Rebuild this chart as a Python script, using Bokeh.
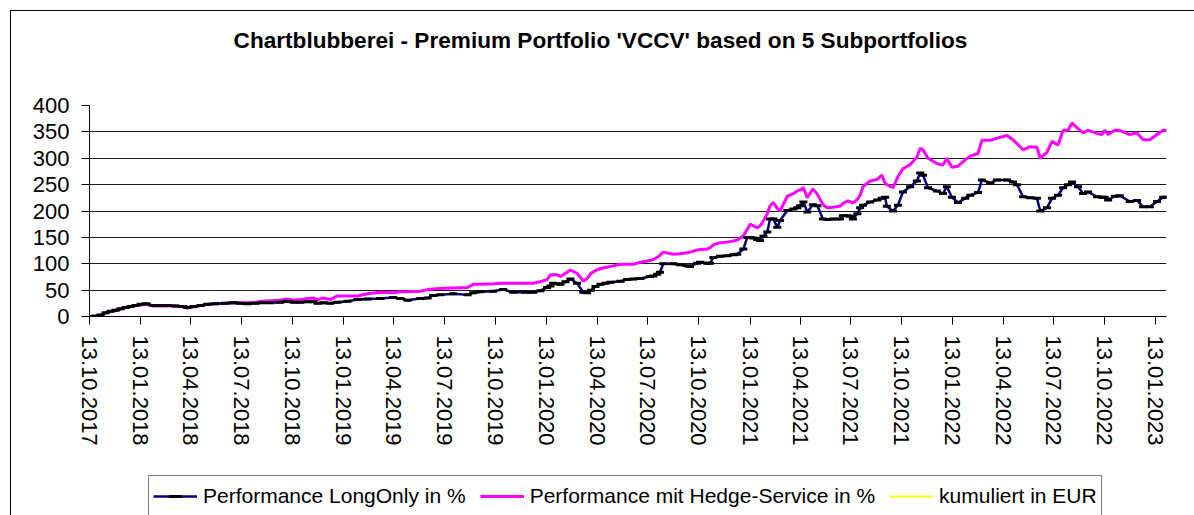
import pandas as pd
from bokeh.plotting import figure
from bokeh.layouts import column
from bokeh.models import (Range1d, FixedTicker, Legend, LegendItem, Label, ColumnDataSource)
from bokeh.embed import file_html
from bokeh.resources import INLINE

title_text = "Chartblubberei - Premium Portfolio 'VCCV' based on 5 Subportfolios"
series_names = ["Performance LongOnly in %",
                "Performance mit Hedge-Service in %",
                "kumuliert in EUR"]
start_date = "13.10.2017"
tick_labels = ["13.10.2017", "13.01.2018", "13.04.2018", "13.07.2018", "13.10.2018",
               "13.01.2019", "13.04.2019", "13.07.2019", "13.10.2019",
               "13.01.2020", "13.04.2020", "13.07.2020", "13.10.2020",
               "13.01.2021", "13.04.2021", "13.07.2021", "13.10.2021",
               "13.01.2022", "13.04.2022", "13.07.2022", "13.10.2022",
               "13.01.2023"]
y_ticks = [0, 50, 100, 150, 200, 250, 300, 350, 400]

# days since 13.10.2017
days = [0, 11, 20, 29, 38, 47, 56, 65, 74, 83,
        92, 102, 115, 128, 140, 155, 169, 176, 187, 200,
        212, 226, 244, 259, 271, 284, 298, 311, 325, 343,
        356, 367, 379, 392, 403, 410, 421, 433, 446, 464,
        482, 500, 523, 546, 559, 572, 595, 608, 618, 631,
        654, 680, 690, 703, 726, 744, 762, 784, 798, 811,
        823, 829, 834, 841, 847, 856, 865, 877, 888, 895,
        902, 910, 919, 928, 937, 955, 967, 978, 991, 1008,
        1014, 1021, 1026, 1032, 1050, 1062, 1075, 1080, 1093, 1098,
        1111, 1116, 1122, 1134, 1147, 1158, 1165, 1176, 1183, 1188,
        1194, 1201, 1206, 1212, 1219, 1224, 1230, 1237, 1242, 1255,
        1266, 1273, 1278, 1284, 1291, 1301, 1309, 1319, 1327, 1337,
        1350, 1355, 1363, 1368, 1373, 1381, 1386, 1391, 1404, 1417,
        1425, 1431, 1434, 1445, 1454, 1463, 1476, 1488, 1494, 1499,
        1508, 1524, 1535, 1542, 1551, 1562, 1575, 1584, 1598, 1605,
        1620, 1632, 1650, 1661, 1668, 1679, 1692, 1704, 1710, 1722,
        1731, 1742, 1751, 1760, 1767, 1778, 1787, 1796, 1812, 1821,
        1826, 1832, 1844, 1853, 1871, 1884, 1895, 1907, 1920, 1931,
        1937]

long_only = [0, 1, 3, 7, 10, 12, 14.5, 17, 19, 21,
             23, 24, 21, 21, 21, 20, 19, 17, 19, 21,
             23, 24, 25, 26, 25, 24, 25, 26, 26, 27,
             29, 27, 27, 28, 28, 25, 26, 25, 27, 29,
             32, 33, 34, 36, 34, 31, 34, 35, 40, 41,
             43, 41, 45, 47, 48, 51, 46, 46, 46, 49,
             55, 58, 63, 62, 61, 66, 71, 63, 46, 45,
             50, 57, 61, 63, 65, 67, 70, 71, 72, 76,
             77, 80, 84, 100, 100, 98, 96, 95, 101, 103,
             101, 101, 112, 114, 115, 117, 118, 128, 150, 150,
             149, 146, 144, 152, 160, 185, 185, 169, 182, 201,
             204, 206, 210, 217, 198, 212, 210, 185, 184, 185,
             185, 191, 191, 190, 185, 195, 206, 211, 217, 221,
             224, 226, 209, 200, 211, 236, 246, 257, 272, 268,
             244, 238, 233, 246, 226, 216, 224, 230, 235, 259,
             253, 259, 259, 255, 250, 227, 225, 224, 200, 206,
             224, 230, 244, 250, 255, 246, 233, 236, 227, 226,
             226, 221, 228, 229, 218, 220, 208, 208, 218, 226,
             226]

hedge = [0, 0, 2, 6, 10, 12, 14, 17, 19, 21,
         22, 23, 20, 20, 20, 20, 18, 16, 18, 21,
         23, 24, 25, 26, 26, 26, 27, 29, 30, 31,
         33, 31, 32, 34, 35, 32, 35, 32, 39, 39,
         39, 43, 46, 45, 47, 47, 48, 51, 52, 53,
         54, 55, 61, 61, 62, 63, 63, 63, 63, 66,
         70, 79, 79, 79, 76, 82, 88, 82, 67, 72,
         82, 87, 91, 93, 95, 99, 99, 99, 103, 106,
         108, 112, 116, 122, 118, 119, 121, 122, 126, 127,
         128, 130, 136, 140, 141, 143, 145, 153, 165, 175,
         172, 168, 172, 181, 195, 210, 216, 205, 200, 228,
         233, 238, 240, 244, 225, 242, 232, 212, 206, 207,
         209, 214, 219, 218, 215, 222, 230, 246, 257, 260,
         268, 252, 250, 244, 265, 280, 288, 302, 319, 316,
         300, 290, 287, 300, 283, 285, 297, 304, 309, 334,
         334, 338, 343, 335, 328, 316, 322, 321, 300, 311,
         332, 325, 353, 353, 367, 356, 348, 353, 347, 345,
         353, 345, 353, 353, 345, 348, 335, 335, 345, 353,
         353]

FONT = "Liberation Sans"
W = 1183

start = pd.to_datetime(start_date, format="%d.%m.%Y")
x = start + pd.to_timedelta(days, unit="D")
src = ColumnDataSource(dict(x=x, L=long_only, H=hedge))


def blank_fig(h):
    f = figure(width=W, height=h, output_backend="svg", toolbar_location=None,
               x_axis_location=None, y_axis_location=None, title=None,
               x_range=Range1d(0, 1), y_range=Range1d(0, 1),
               min_border=0)
    f.outline_line_color = None
    f.xgrid.visible = False
    f.ygrid.visible = False
    f.background_fill_color = "white"
    f.border_fill_color = "white"
    return f


# ---- title strip (frame is aligned with the main chart's frame) ----
pt = blank_fig(79)
pt.add_layout(Label(x=511, y=50, x_units="screen", y_units="screen",
                    text=title_text, text_align="center",
                    text_baseline="middle", text_font=FONT,
                    text_font_size="22.6px", text_font_style="bold",
                    text_color="black"))

# ---- main chart ----
p = figure(width=W, height=380, x_axis_type="datetime", title=None,
           output_backend="svg", toolbar_location=None,
           x_range=Range1d(x[0].to_pydatetime(), x[-1].to_pydatetime()),
           y_range=Range1d(y_ticks[0], y_ticks[-1]),
           min_border_left=78, min_border_right=28,
           min_border_top=15, min_border_bottom=154)
p.outline_line_color = None
p.background_fill_color = "white"
p.border_fill_color = "white"

tick_ts = pd.to_datetime(tick_labels, format="%d.%m.%Y")
tick_ms = [int(t.value // 10**6) for t in tick_ts]
p.xaxis.ticker = FixedTicker(ticks=tick_ms)
p.xaxis.major_label_overrides = dict(zip(tick_ms, tick_labels))
p.xaxis.major_label_orientation = "vertical"
p.xaxis.major_label_text_font = FONT
p.xaxis.major_label_text_font_size = "22px"
p.xaxis.major_label_text_color = "black"
p.xaxis.major_label_standoff = 11
p.xaxis.major_tick_out = 8
p.xaxis.major_tick_in = 0
p.xaxis.minor_tick_line_color = None
p.xaxis.axis_line_color = "black"
p.xaxis.major_tick_line_color = "black"

p.yaxis.ticker = FixedTicker(ticks=y_ticks)
p.yaxis.major_label_text_font = FONT
p.yaxis.major_label_text_font_size = "22px"
p.yaxis.major_label_text_color = "black"
p.yaxis.major_label_standoff = 12
p.yaxis.major_tick_out = 8
p.yaxis.major_tick_in = 0
p.yaxis.minor_tick_line_color = None
p.yaxis.axis_line_color = "black"
p.yaxis.major_tick_line_color = "black"

p.xgrid.visible = False
p.ygrid.ticker = FixedTicker(ticks=y_ticks[1:-1])
p.ygrid.grid_line_color = "#1a1a1a"
p.ygrid.grid_line_width = 1

p.line("x", "H", source=src, line_color="#FF00FF", line_width=3)
p.line("x", "L", source=src, line_color="#000080", line_width=2.5)
p.scatter("x", "L", source=src, marker="dash", size=8,
          line_color="black", line_width=3)

# ---- legend strip (swatch renderers lie outside this strip's ranges) ----
pl = blank_fig(45)
gL = pl.line("x", "L", source=src, line_color="#000080", line_width=2.5)
gM = pl.scatter("x", "L", source=src, marker="dash", size=8,
                line_color="black", line_width=3)
gH = pl.line("x", "H", source=src, line_color="#FF00FF", line_width=3)
gY = pl.line("x", "H", source=src, line_color="#FFFF00", line_width=2)
legend = Legend(items=[LegendItem(label=series_names[0], renderers=[gL, gM]),
                       LegendItem(label=series_names[1], renderers=[gH]),
                       LegendItem(label=series_names[2], renderers=[gY])],
                location=(59, -2), orientation="horizontal",
                label_text_font=FONT, label_text_font_size="21px",
                label_text_color="black", label_text_baseline="middle",
                glyph_width=44, glyph_height=32, label_height=32,
                label_standoff=6, spacing=14, padding=4, margin=0,
                border_line_color="black", border_line_width=1,
                background_fill_color="white", background_fill_alpha=1)
pl.add_layout(legend)

layout = column(pt, p, pl, spacing=0,
                styles={"margin-left": "10px", "margin-top": "10px",
                        "border-left": "1px solid black",
                        "border-top": "1px solid black"})

open("out.html", "w").write(file_html(layout, INLINE))
